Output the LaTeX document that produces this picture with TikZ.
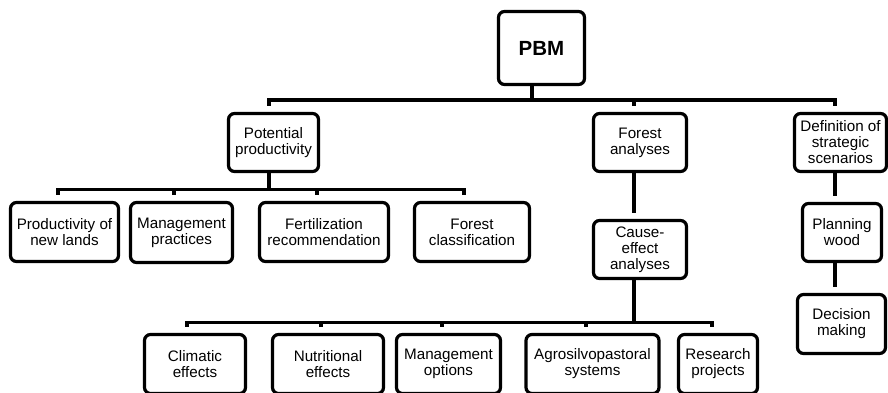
\documentclass[tikz,border=0pt]{standalone}
\usepackage{fontspec}
\setmainfont{Liberation Sans}
\begin{document}
\begin{tikzpicture}[x=1pt,y=-1pt,
  box/.style={draw=black, fill=white, line width=3.2pt, rounded corners=6pt,
    align=center, inner sep=0pt, font=\fontsize{15.2}{16}\selectfont},
  conn/.style={draw=black, line width=3.2pt, shorten >=6pt}
]
\useasboundingbox (0,0) rectangle (888,393);
\begin{scope}
\clip (0,0) rectangle (888,393);

% root
\node[box, minimum width=86pt, minimum height=73pt,
  font=\fontsize{20.5}{24}\selectfont\bfseries] (pbm) at (541.5,48) {PBM};

% first level
\node[box, minimum width=90pt, minimum height=58pt] (pp) at (273.5,142.5) {Potential\\productivity};
\node[box, minimum width=93pt, minimum height=58pt] (fa) at (640,142.5) {Forest\\analyses};
\node[box, minimum width=92pt, minimum height=58pt] (def) at (840.5,142.5) {Definition of\\strategic\\scenarios};

% children of potential productivity
\node[box, minimum width=108pt, minimum height=59pt] (pnl) at (64.5,232) {Productivity of\\new lands};
\node[box, minimum width=102pt, minimum height=60pt] (mp) at (181.5,232.5) {Management\\practices};
\node[box, minimum width=129pt, minimum height=59pt] (fr) at (324,232) {Fertilization\\recommendation};
\node[box, minimum width=115pt, minimum height=59pt] (fc) at (472,232) {Forest\\classification};

% forest analyses branch
\node[box, minimum width=93pt, minimum height=58pt] (ce) at (640,249.5) {Cause-\\effect\\analyses};
\node[box, minimum width=101pt, minimum height=59pt] (cl) at (195,364) {Climatic\\effects};
\node[box, minimum width=111pt, minimum height=59pt] (nu) at (328,364) {Nutritional\\effects};
\node[box, minimum width=104pt, minimum height=59pt] (mo) at (448.5,364) {Management\\options};
\node[box, minimum width=133pt, minimum height=59pt] (ag) at (592.5,364) {Agrosilvopastoral\\systems};
\node[box, minimum width=79pt, minimum height=59pt] (rp) at (718,364) {Research\\projects};

% strategic branch
\node[box, minimum width=79pt, minimum height=58pt] (pw) at (842,232.5) {Planning\\wood};
\node[box, minimum width=88pt, minimum height=59pt] (dm) at (841.5,324) {Decision\\making};

% root to first level
\draw[conn] ([xshift=-9.5pt]pbm.south) -- ++(0,14) -| ([xshift=-4.5pt]pp.north);
\draw[conn] ([xshift=-9.5pt]pbm.south) -- ++(0,14) -| ([xshift=-6pt]fa.north);
\draw[conn] ([xshift=-9.5pt]pbm.south) -- ++(0,14) -| ([xshift=-5.5pt]def.north);

% potential productivity to its children
\draw[conn] ([xshift=-4.5pt]pp.south) -- ++(0,16) -| ([xshift=-6.5pt]pnl.north);
\draw[conn] ([xshift=-4.5pt]pp.south) -- ++(0,16) -| ([xshift=-7.5pt]mp.north);
\draw[conn] ([xshift=-4.5pt]pp.south) -- ++(0,16) -| ([xshift=-7pt]fr.north);
\draw[conn] ([xshift=-4.5pt]pp.south) -- ++(0,16) -| ([xshift=-8pt]fc.north);

% forest analyses to cause-effect analyses
\draw[conn] ([xshift=-6pt]fa.south) -- ([xshift=-6pt]fa.south |- ce.north);

% cause-effect analyses to its children
\draw[conn] ([xshift=-6pt]ce.south) -- ++(0,42) -| ([xshift=-8pt]cl.north);
\draw[conn] ([xshift=-6pt]ce.south) -- ++(0,42) -| ([xshift=-7pt]nu.north);
\draw[conn] ([xshift=-6pt]ce.south) -- ++(0,42) -| ([xshift=-6.5pt]mo.north);
\draw[conn] ([xshift=-6pt]ce.south) -- ++(0,42) -| ([xshift=-6.5pt]ag.north);
\draw[conn] ([xshift=-6pt]ce.south) -- ++(0,42) -| ([xshift=-6pt]rp.north);

% strategic chain
\draw[conn] ([xshift=-5.5pt]def.south) -- ([xshift=-5.5pt]def.south |- pw.north);
\draw[conn] ([xshift=-7pt]pw.south) -- ([xshift=-7pt]pw.south |- dm.north);
\end{scope}
\end{tikzpicture}
\end{document}
